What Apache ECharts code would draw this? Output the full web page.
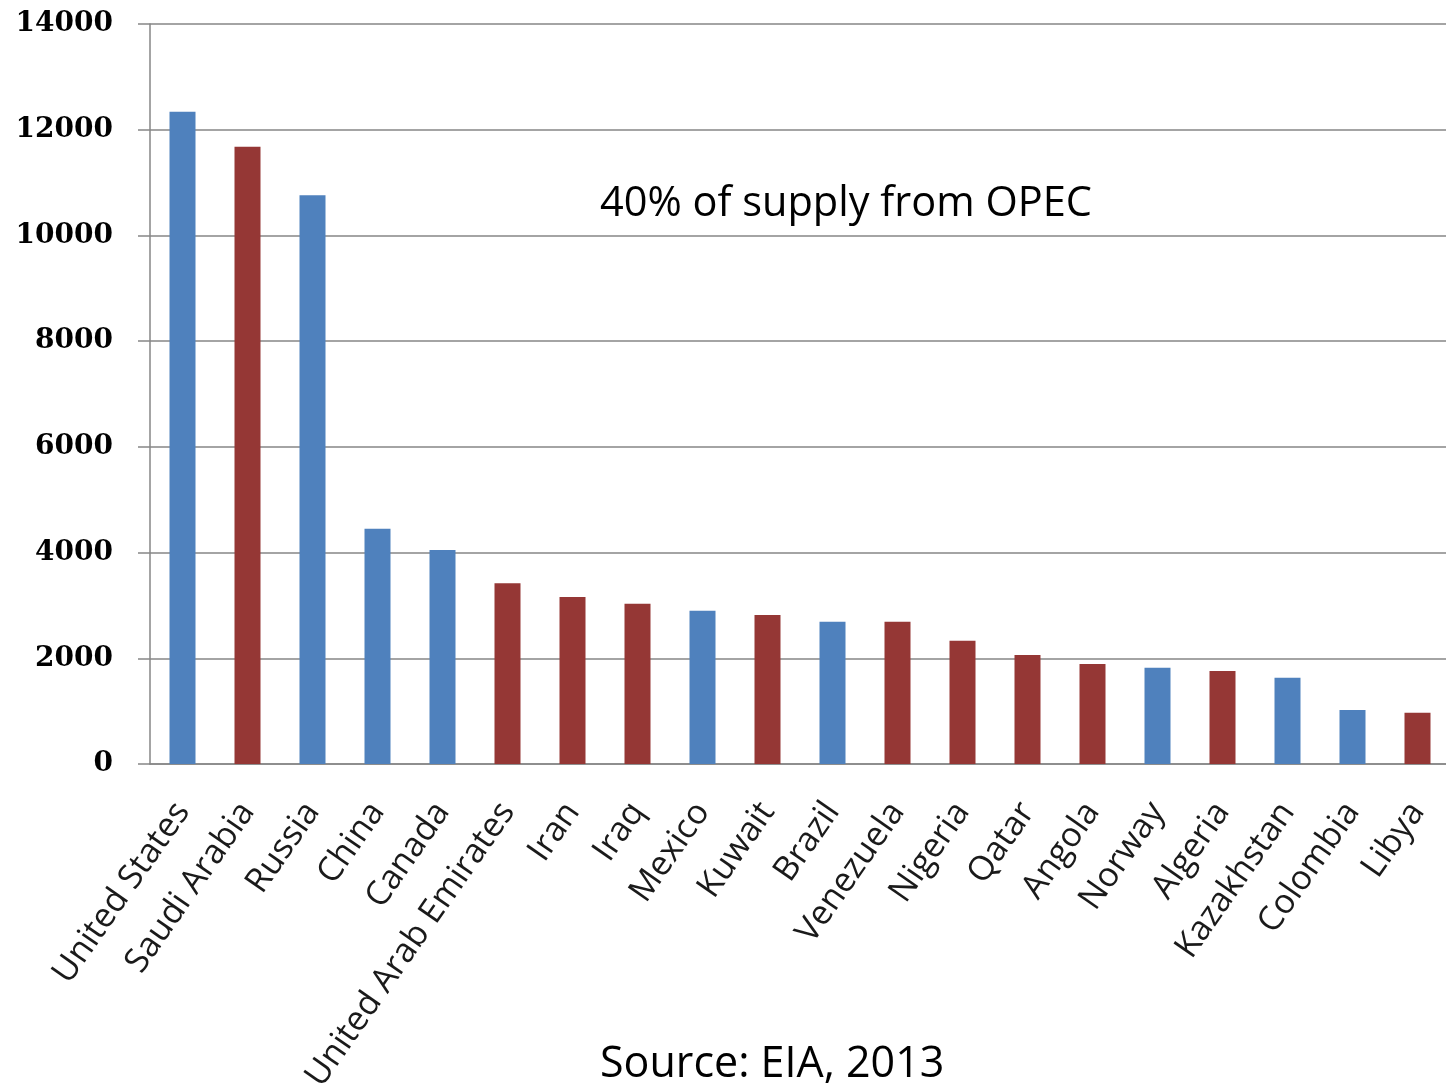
<!DOCTYPE html>
<html>
<head>
<meta charset="utf-8">
<script src="https://cdn.jsdelivr.net/npm/echarts@6/dist/echarts.min.js"></script>
<style>
  html, body { margin: 0; padding: 0; background: #fff; }
  #chart { width: 1446px; height: 1085px; }
</style>
</head>
<body>
<div id="chart"></div>
<script>
// oil production by country, EIA 2013
const countries = ['United States', 'Saudi Arabia', 'Russia', 'China', 'Canada',
  'United Arab Emirates', 'Iran', 'Iraq', 'Mexico', 'Kuwait', 'Brazil', 'Venezuela',
  'Nigeria', 'Qatar', 'Angola', 'Norway', 'Algeria', 'Kazakhstan', 'Colombia', 'Libya'];
const production = [12340, 11680, 10760, 4450, 4050, 3420, 3160, 3030, 2900, 2820,
  2690, 2690, 2330, 2060, 1890, 1820, 1760, 1630, 1020, 970];
const opecMember = [false, true, false, false, false, true, true, true, false, true,
  false, true, true, true, true, false, true, false, false, true];
const yTicks = [0, 14000, 2000]; // min, max, step

const BLUE = '#4f81bd';
const RED = '#953735';

const chart = echarts.init(document.getElementById('chart'));

const option = {
  animation: false,
  grid: {
    left: 150, top: 24, width: 1300, bottom: 321,
    containLabel: false,
    outerBoundsMode: 'none'
  },
  xAxis: {
    type: 'category',
    data: countries,
    axisLine: { lineStyle: { color: '#868686', width: 1.5 } },
    axisTick: { length: 10, lineStyle: { color: '#868686', width: 1.5 } },
    axisLabel: {
      interval: 0,
      rotate: 55,
      margin: 42,
      color: '#1a1a1a',
      fontFamily: 'Open Sans',
      fontSize: 34
    }
  },
  yAxis: {
    type: 'value',
    min: yTicks[0],
    max: yTicks[1],
    interval: yTicks[2],
    axisLine: { show: true, lineStyle: { color: '#868686', width: 1.5 } },
    axisTick: { show: true, length: 12, lineStyle: { color: '#868686', width: 1.5 } },
    splitLine: { lineStyle: { color: '#868686', width: 1.5 } },
    axisLabel: {
      margin: 37,
      color: '#000',
      fontFamily: 'DejaVu Serif',
      fontWeight: 'bold',
      fontSize: 28,
      formatter: v => String(v)
    }
  },
  series: [{
    type: 'bar',
    barWidth: 26,
    data: production.map((v, i) => ({
      value: v,
      itemStyle: { color: opecMember[i] ? RED : BLUE }
    }))
  }],
  graphic: [
    {
      type: 'text', left: 600, top: 183,
      style: { text: '40% of supply from OPEC', fontFamily: 'Open Sans', fontSize: 41.5, fill: '#000' }
    },
    {
      type: 'text', left: 600, top: 1043,
      style: { text: 'Source: EIA, 2013', fontFamily: 'Open Sans', fontSize: 43, fill: '#000' }
    }
  ]
};

chart.setOption(option);
</script>
</body>
</html>
